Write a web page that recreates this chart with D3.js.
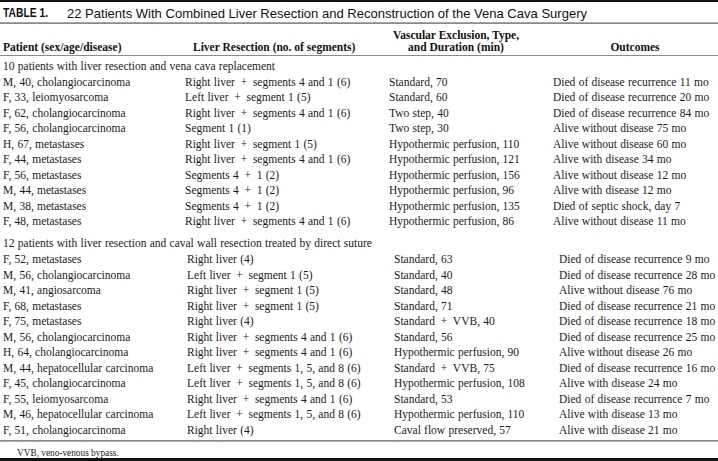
<!DOCTYPE html>
<html>
<head>
<meta charset="utf-8">
<script src="https://cdn.jsdelivr.net/npm/d3@7"></script>
<style>
  html, body { margin: 0; padding: 0; background: #fff; }
  svg { display: block; }
</style>
</head>
<body>
<svg id="chart" width="718" height="461"></svg>
<script>
// ---- Data ----
const tableTitleLabel = "TABLE 1.";
const tableTitle = "22 Patients With Combined Liver Resection and Reconstruction of the Vena Cava Surgery";
const headerPatient = ["Patient (sex/age/disease)"];
const headerResection = ["Liver Resection (no. of segments)"];
const headerVascular = ["Vascular Exclusion, Type,", "and Duration (min)"];
const headerOutcomes = ["Outcomes"];

const section1Label = "10 patients with liver resection and vena cava replacement";
const section1Patients = [
  "M, 40, cholangiocarcinoma", "F, 33, leiomyosarcoma", "F, 62, cholangiocarcinoma",
  "F, 56, cholangiocarcinoma", "H, 67, metastases", "F, 44, metastases",
  "F, 56, metastases", "M, 44, metastases", "M, 38, metastases", "F, 48, metastases"
];
const section1Resection = [
  "Right liver + segments 4 and 1 (6)", "Left liver + segment 1 (5)", "Right liver + segments 4 and 1 (6)",
  "Segment 1 (1)", "Right liver + segment 1 (5)", "Right liver + segments 4 and 1 (6)",
  "Segments 4 + 1 (2)", "Segments 4 + 1 (2)", "Segments 4 + 1 (2)", "Right liver + segments 4 and 1 (6)"
];
const section1Vascular = [
  "Standard, 70", "Standard, 60", "Two step, 40", "Two step, 30",
  "Hypothermic perfusion, 110", "Hypothermic perfusion, 121", "Hypothermic perfusion, 156",
  "Hypothermic perfusion, 96", "Hypothermic perfusion, 135", "Hypothermic perfusion, 86"
];
const section1Outcomes = [
  "Died of disease recurrence 11 mo", "Died of disease recurrence 20 mo", "Died of disease recurrence 84 mo",
  "Alive without disease 75 mo", "Alive without disease 60 mo", "Alive with disease 34 mo",
  "Alive without disease 12 mo", "Alive with disease 12 mo", "Died of septic shock, day 7",
  "Alive without disease 11 mo"
];

const section2Label = "12 patients with liver resection and caval wall resection treated by direct suture";
const section2Patients = [
  "F, 52, metastases", "M, 56, cholangiocarcinoma", "M, 41, angiosarcoma", "F, 68, metastases",
  "F, 75, metastases", "M, 56, cholangiocarcinoma", "H, 64, cholangiocarcinoma",
  "M, 44, hepatocellular carcinoma", "F, 45, cholangiocarcinoma", "F, 55, leiomyosarcoma",
  "M, 46, hepatocellular carcinoma", "F, 51, cholangiocarcinoma"
];
const section2Resection = [
  "Right liver (4)", "Left liver + segment 1 (5)", "Right liver + segment 1 (5)", "Right liver + segment 1 (5)",
  "Right liver (4)", "Right liver + segments 4 and 1 (6)", "Right liver + segments 4 and 1 (6)",
  "Left liver + segments 1, 5, and 8 (6)", "Left liver + segments 1, 5, and 8 (6)",
  "Right liver + segments 4 and 1 (6)", "Left liver + segments 1, 5, and 8 (6)", "Right liver (4)"
];
const section2Vascular = [
  "Standard, 63", "Standard, 40", "Standard, 48", "Standard, 71", "Standard + VVB, 40",
  "Standard, 56", "Hypothermic perfusion, 90", "Standard + VVB, 75", "Hypothermic perfusion, 108",
  "Standard, 53", "Hypothermic perfusion, 110", "Caval flow preserved, 57"
];
const section2Outcomes = [
  "Died of disease recurrence 9 mo", "Died of disease recurrence 28 mo", "Alive without disease 76 mo",
  "Died of disease recurrence 21 mo", "Died of disease recurrence 18 mo", "Died of disease recurrence 25 mo",
  "Alive without disease 26 mo", "Died of disease recurrence 16 mo", "Alive with disease 24 mo",
  "Died of disease recurrence 7 mo", "Alive with disease 13 mo", "Alive with disease 21 mo"
];

const footnote = "VVB, veno-venous bypass.";

// ---- Layout ----
const W = 718, H = 461;
const svg = d3.select("#chart");
const serif = "'Liberation Serif', 'Times New Roman', serif";
const sans = "'Liberation Sans', Arial, sans-serif";
const bodySize = 11.5;
const rowStep = 15.5;
// typeset "+" operators carry wider spaces around them
const typeset = s => s.replace(/ \+ /g, "\u2002+\u2002");

// horizontal rules
const rules = [
  {y: 0.9, w: 2, c: "#111"},
  {y: 23.2, w: 1.8, c: "#8a8a8a"},
  {y: 55.5, w: 1.2, c: "#8a8a8a"},
  {y: 440.8, w: 1.8, c: "#8a8a8a"},
  {y: 459.6, w: 3, c: "#111"}
];
svg.selectAll("line.rule").data(rules).join("line")
  .attr("class", "rule")
  .attr("x1", 0).attr("x2", W)
  .attr("y1", d => d.y).attr("y2", d => d.y)
  .attr("stroke", d => d.c).attr("stroke-width", d => d.w);

// title
const tg = svg.append("g").attr("font-family", sans).attr("fill", "#111");
tg.append("text").attr("x", 3).attr("y", 12.8).attr("dy", "0.36em")
  .attr("font-size", 13).attr("font-weight", "bold")
  .attr("textLength", 45).attr("lengthAdjust", "spacingAndGlyphs")
  .text(tableTitleLabel);
tg.append("text").attr("x", 67).attr("y", 12.8).attr("dy", "0.36em")
  .attr("font-size", 13.3)
  .attr("textLength", 520).attr("lengthAdjust", "spacingAndGlyphs")
  .text(tableTitle);

// header
const hdr = svg.append("g").attr("font-family", serif).attr("font-weight", "bold")
  .attr("font-size", 11.5).attr("fill", "#111");
hdr.append("text").attr("x", 3).attr("y", 46.7).attr("dy", "0.35em").text(headerPatient[0]);
hdr.append("text").attr("x", 193).attr("y", 46.7).attr("dy", "0.35em").text(headerResection[0]);
hdr.selectAll("text.vh").data(headerVascular).join("text").attr("class", "vh")
  .attr("x", 456).attr("text-anchor", "middle")
  .attr("y", (d, i) => 35 + i * 11.7).attr("dy", "0.35em").text(d => d);
hdr.append("text").attr("x", 635).attr("text-anchor", "middle").attr("y", 46.7).attr("dy", "0.35em").text(headerOutcomes[0]);

// sections
const sections = [
  {label: section1Label, labelY: 65.8, firstRowY: 81.7,
   cols: [3, 185, 389, 553],
   data: [section1Patients, section1Resection, section1Vascular, section1Outcomes]},
  {label: section2Label, labelY: 243.2, firstRowY: 259.4,
   cols: [3, 187, 394, 559],
   data: [section2Patients, section2Resection, section2Vascular, section2Outcomes]}
];

const body = svg.append("g").attr("font-family", serif).attr("font-size", bodySize)
  .attr("word-spacing", 0.4).attr("fill", "#1a1a1a");

sections.forEach(sec => {
  const n = sec.data[0].length;
  const y = d3.scaleLinear().domain([0, 1]).range([sec.firstRowY, sec.firstRowY + rowStep]);
  body.append("text").attr("x", 3).attr("y", sec.labelY).attr("dy", "0.35em").text(sec.label);
  const rows = d3.range(n).map(i => sec.data.map(col => col[i]));
  const g = body.append("g");
  const rowG = g.selectAll("g.row").data(rows).join("g").attr("class", "row")
    .attr("transform", (d, i) => `translate(0,${y(i)})`);
  rowG.selectAll("text").data(d => d).join("text")
    .attr("x", (d, j) => sec.cols[j]).attr("dy", "0.35em")
    .text(d => typeset(d));
});

// footnote
svg.append("text").attr("x", 17).attr("y", 452.5).attr("dy", "0.35em")
  .attr("font-family", serif).attr("font-size", 9.3).attr("fill", "#222").text(footnote);
</script>
</body>
</html>
